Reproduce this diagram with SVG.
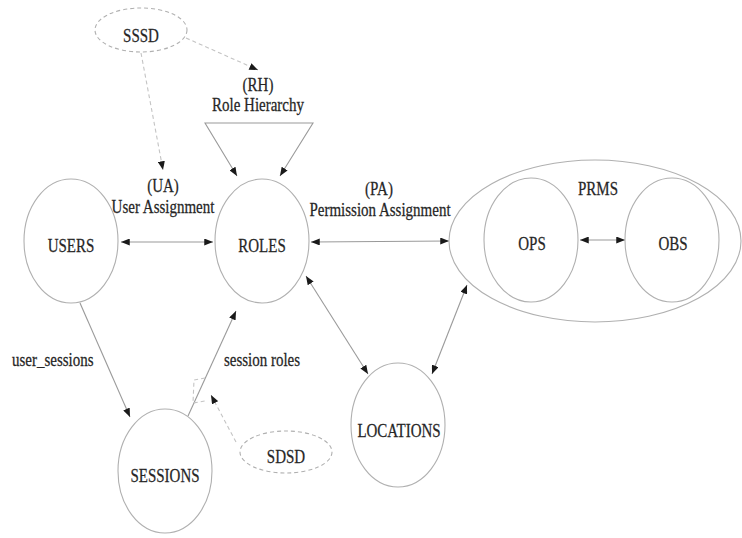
<svg xmlns="http://www.w3.org/2000/svg" width="742" height="538" viewBox="0 0 742 538">
<style>
.n{fill:none;stroke:#b0b0b0;stroke-width:1.1}
.d{stroke-dasharray:4 3}
.c{fill:none;stroke:#9a9a9a;stroke-width:1.1}
.f{stroke:#c4c4c4}
.t{font-family:"Liberation Serif","Times New Roman",serif;font-size:15px;fill:#262626;text-anchor:middle;stroke:#262626;stroke-width:0.2}
.l{text-anchor:start}
</style>
<defs>
<marker id="ah" viewBox="0 0 10 8" refX="10" refY="4" markerWidth="9" markerHeight="7" markerUnits="userSpaceOnUse" orient="auto-start-reverse">
<path d="M0,0 L10,4 L0,8 Z" fill="#1a1a1a"/>
</marker>
</defs>
<rect width="742" height="538" fill="#fff"/>
<g id="connectors">
<line class="c" x1="121" y1="242" x2="213" y2="242" marker-start="url(#ah)" marker-end="url(#ah)"/>
<line class="c" x1="311" y1="242" x2="449" y2="241" marker-start="url(#ah)" marker-end="url(#ah)"/>
<line class="c" x1="580" y1="240" x2="625" y2="240" marker-start="url(#ah)" marker-end="url(#ah)"/>
<line class="c" x1="306" y1="276" x2="368" y2="374" marker-start="url(#ah)" marker-end="url(#ah)"/>
<line class="c" x1="432" y1="374" x2="467" y2="285" marker-start="url(#ah)" marker-end="url(#ah)"/>
<line class="c" x1="80" y1="303" x2="130" y2="417" marker-end="url(#ah)"/>
<line class="c" x1="188" y1="416" x2="236" y2="311" marker-end="url(#ah)"/>
<line class="c d f" x1="141" y1="53" x2="163" y2="170" marker-end="url(#ah)"/>
<line class="c d f" x1="186" y1="38" x2="258" y2="70" marker-end="url(#ah)"/>
<polyline class="c" points="237,176 205,123 313,123 280,176" marker-start="url(#ah)" marker-end="url(#ah)"/>
<line class="c d f" x1="236" y1="442" x2="211" y2="395" marker-end="url(#ah)"/>
<path class="c d f" d="M205,378 L194,380 L193,403 L205,401"/>
</g>
<g id="SSSD">
<ellipse class="n d" cx="141" cy="30" rx="46" ry="22"/>
<text class="t" transform="translate(141 42) scale(1 1.3)">SSSD</text>
</g>
<g id="RH-label">
<text class="t" transform="translate(258 91) scale(1 1.3)">(RH)</text>
<text class="t" transform="translate(258 111) scale(1 1.3)">Role Hierarchy</text>
</g>
<g id="UA-label">
<text class="t" transform="translate(163 192) scale(1 1.3)">(UA)</text>
<text class="t" transform="translate(163 213) scale(1 1.3)">User Assignment</text>
</g>
<g id="PA-label">
<text class="t" transform="translate(379 195) scale(1 1.3)">(PA)</text>
<text class="t" transform="translate(380 216) scale(1 1.3)">Permission Assignment</text>
</g>
<g id="USERS">
<ellipse class="n" cx="71" cy="241" rx="47" ry="62"/>
<text class="t" transform="translate(71 252) scale(1 1.3)">USERS</text>
</g>
<g id="ROLES">
<ellipse class="n" cx="262" cy="241" rx="47" ry="62"/>
<text class="t" transform="translate(262 252) scale(1 1.3)">ROLES</text>
</g>
<g id="PRMS">
<ellipse class="n" cx="595" cy="241" rx="146" ry="81"/>
<text class="t" transform="translate(598 195) scale(1 1.3)">PRMS</text>
</g>
<g id="OPS">
<ellipse class="n" cx="531" cy="240" rx="47" ry="62"/>
<text class="t" transform="translate(532 250) scale(1 1.3)">OPS</text>
</g>
<g id="OBS">
<ellipse class="n" cx="672" cy="240" rx="47" ry="62"/>
<text class="t" transform="translate(673 250) scale(1 1.3)">OBS</text>
</g>
<g id="LOCATIONS">
<ellipse class="n" cx="398" cy="425" rx="47" ry="62"/>
<text class="t" transform="translate(399 437) scale(1 1.3)">LOCATIONS</text>
</g>
<g id="SESSIONS">
<ellipse class="n" cx="165" cy="471" rx="47" ry="62"/>
<text class="t" transform="translate(165 482) scale(1 1.3)">SESSIONS</text>
</g>
<g id="SDSD">
<ellipse class="n d" cx="286" cy="452" rx="46" ry="21"/>
<text class="t" transform="translate(286 463) scale(1 1.3)">SDSD</text>
</g>
<g id="edge-labels">
<text class="t l" transform="translate(12 366) scale(1 1.3)">user_sessions</text>
<text class="t" transform="translate(262 366) scale(1 1.3)">session roles</text>
</g>
</svg>
